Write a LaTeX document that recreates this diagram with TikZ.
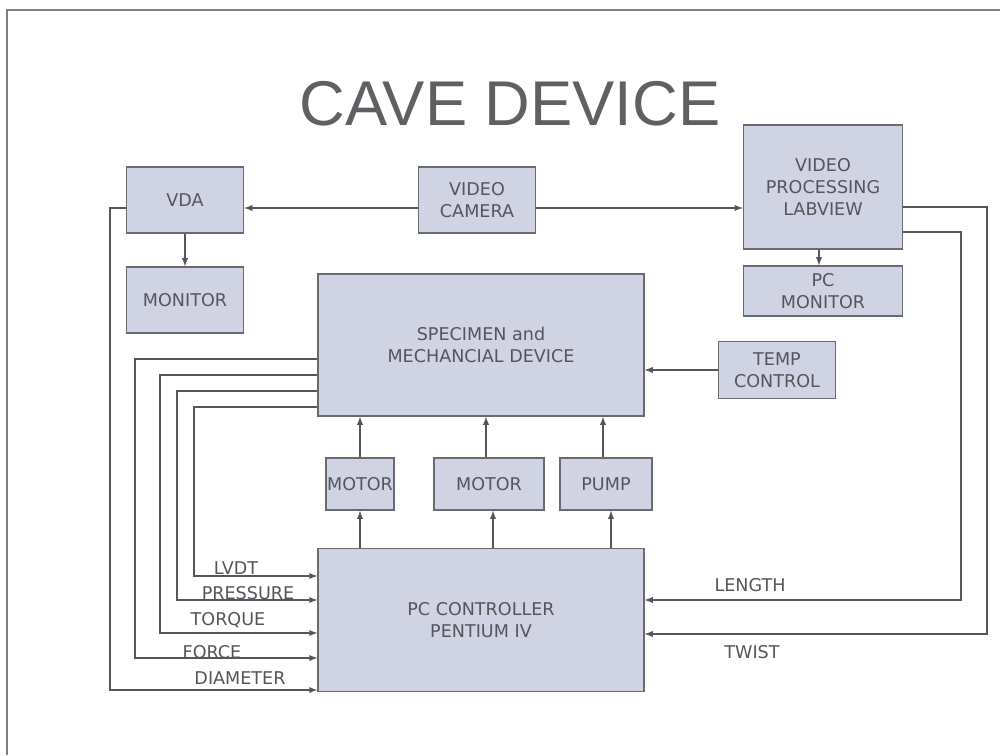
\documentclass[tikz,border=0pt]{standalone}
\usepackage{fontspec}
\setmainfont{DejaVu Sans}
\newfontfamily\titlefont{Liberation Sans}
\usepackage{tikz}
\usetikzlibrary{positioning,calc}
\definecolor{boxfill}{HTML}{CFD3E4}
\definecolor{boxline}{HTML}{6A6A72}
\definecolor{inkgrey}{HTML}{55555C}
\definecolor{titlegrey}{HTML}{606064}
\tikzset{>=latex}
\tikzset{
  blk/.style={draw=boxline, fill=boxfill, line width=0.8pt, text=inkgrey,
    font=\fontsize{10}{12.5}\selectfont, align=center, inner sep=0pt},
  sig/.style={draw=inkgrey, line width=0.6pt},
  siglabel/.style={text=inkgrey, font=\fontsize{10}{12}\selectfont, inner sep=0pt}
}
\begin{document}
\begin{tikzpicture}[x=0.02cm, y=-0.02cm]
  \useasboundingbox (0,0) rectangle (1000,755);
  % page frame
  \draw[color=gray, line width=0.8pt] (7,755) -- (7,10) -- (1000,10);
  \node[text=titlegrey, font=\titlefont\fontsize{36}{40}\selectfont] (title) at (510,104) {CAVE DEVICE};
  % blocks
  \node[blk, minimum width=2.34cm, minimum height=1.32cm] (vda) at (185,200) {VDA};
  \node[blk, minimum width=2.34cm, minimum height=1.32cm] (mon) at (185,300) {MONITOR};
  \node[blk, minimum width=2.34cm, minimum height=1.32cm] (cam) at (477,200) {VIDEO\\CAMERA};
  \node[blk, minimum width=3.18cm, minimum height=2.48cm] (lab) at (823,187) {VIDEO\\PROCESSING\\LABVIEW};
  \node[blk, minimum width=3.18cm, minimum height=1.0cm] (pcmon) at (823,291) {PC\\MONITOR};
  \node[blk, minimum width=6.52cm, minimum height=2.84cm] (spec) at (481,345) {SPECIMEN and\\MECHANCIAL DEVICE};
  \node[blk, minimum width=2.34cm, minimum height=1.14cm] (temp) at (777,370) {TEMP\\CONTROL};
  \node[blk, minimum width=1.36cm, minimum height=1.04cm] (mota) at (360,484) {MOTOR};
  \node[blk, minimum width=2.2cm, minimum height=1.04cm] (motb) at (489,484) {MOTOR};
  \node[blk, minimum width=1.84cm, minimum height=1.04cm] (pump) at (606,484) {PUMP};
  \node[blk, minimum width=6.52cm, minimum height=2.86cm] (ctrl) at (481,620) {PC CONTROLLER\\PENTIUM IV};
  % levels of the feedback lines
  \coordinate (yforce) at (0,359);
  \coordinate (ytorque) at (0,375);
  \coordinate (ypress) at (0,391);
  \coordinate (ylvdt) at (0,407);
  \coordinate (ilvdt) at (0,576);
  \coordinate (ipress) at (0,600);
  \coordinate (itorque) at (0,633);
  \coordinate (iforce) at (0,658);
  \coordinate (idiam) at (0,690);
  \coordinate (ytwist) at (0,207);
  \coordinate (ylength) at (0,232);
  \coordinate (ilength) at (0,600);
  \coordinate (itwist) at (0,634);
  % video path
  \draw[sig,->] (cam.west |- 0,208) -- (vda.east |- 0,208);
  \draw[sig,->] (cam.east |- 0,208) -- (lab.west |- 0,208);
  \draw[sig,->] (vda) -- (mon);
  \draw[sig,->] (lab.south -| 819,0) -- (pcmon.north -| 819,0);
  \draw[sig,->] (temp) -- (spec.east |- temp);
  % actuators
  \draw[sig,->] (mota.north) -- (spec.south -| mota.north);
  \draw[sig,->] (motb.north -| 486,0) -- (spec.south -| 486,0);
  \draw[sig,->] (pump.north -| 603,0) -- (spec.south -| 603,0);
  \draw[sig,->] (ctrl.north -| mota) -- (mota.south);
  \draw[sig,->] (ctrl.north -| 493,0) -- (motb.south -| 493,0);
  \draw[sig,->] (ctrl.north -| 611,0) -- (pump.south -| 611,0);
  % sensor lines
  \draw[sig,->] (spec.west |- yforce) -| (135,500) |- (ctrl.west |- iforce);
  \draw[sig,->] (spec.west |- ytorque) -| (160,500) |- (ctrl.west |- itorque);
  \draw[sig,->] (spec.west |- ypress) -| (177,500) |- (ctrl.west |- ipress);
  \draw[sig,->] (spec.west |- ylvdt) -| (194,500) |- (ctrl.west |- ilvdt);
  \draw[sig,->] (vda.west |- 0,208) -| (110,500) |- (ctrl.west |- idiam);
  \draw[sig,->] (lab.east |- ytwist) -| (987,400) |- (ctrl.east |- itwist);
  \draw[sig,->] (lab.east |- ylength) -| (961,400) |- (ctrl.east |- ilength);
  % labels
  \node[siglabel] (llvdt) at (236,568) {LVDT};
  \node[siglabel] (lpress) at (248,593) {PRESSURE};
  \node[siglabel] (ltorque) at (228,620) {TORQUE};
  \node[siglabel] (lforce) at (212,652) {FORCE};
  \node[siglabel] (ldiam) at (240,678) {DIAMETER};
  \node[siglabel] (llength) at (750,585) {LENGTH};
  \node[siglabel] (ltwist) at (752,652) {TWIST};
\end{tikzpicture}
\end{document}
